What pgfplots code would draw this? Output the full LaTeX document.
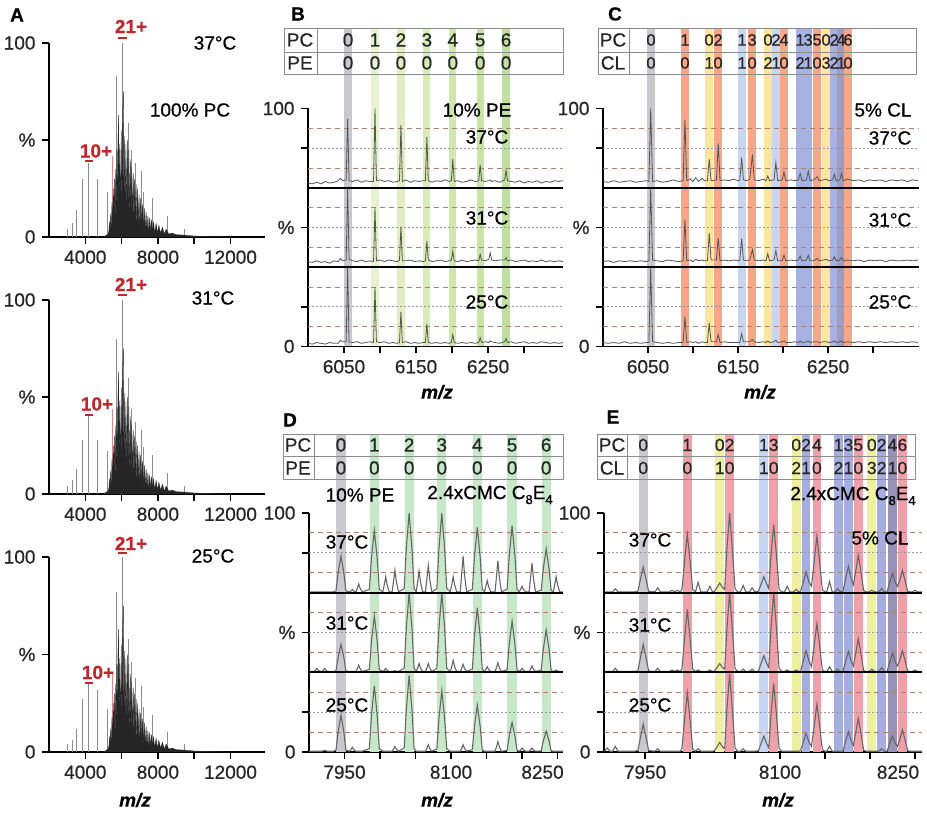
\documentclass[border=0pt]{standalone}
\usepackage{fontspec}
\setmainfont{Liberation Sans}[FakeBold=0.6]
\usepackage{pgfplots}
\usepackage{pgfplotstable}
\pgfplotsset{compat=1.18}

\definecolor{bgray}{RGB}{200,200,206}
\definecolor{gA}{RGB}{232,242,208}
\definecolor{gB}{RGB}{224,238,194}
\definecolor{gC}{RGB}{216,235,184}
\definecolor{gD}{RGB}{208,231,174}
\definecolor{gE}{RGB}{200,227,166}
\definecolor{gF}{RGB}{192,222,160}
\definecolor{dgreen}{RGB}{198,232,200}
\definecolor{cred}{RGB}{246,166,138}
\definecolor{cyel}{RGB}{251,230,160}
\definecolor{clb}{RGB}{200,214,240}
\definecolor{cblue}{RGB}{168,178,226}
\definecolor{cdark}{RGB}{156,156,196}
\definecolor{ered}{RGB}{240,160,168}
\definecolor{eyel}{RGB}{238,240,160}
\definecolor{elb}{RGB}{198,214,242}
\definecolor{eblue}{RGB}{166,174,224}
\definecolor{edark}{RGB}{152,146,184}
\definecolor{dashbrown}{RGB}{170,130,115}
\definecolor{dotgray}{RGB}{150,150,165}
\definecolor{labred}{RGB}{190,40,45}
\definecolor{trace}{RGB}{85,85,85}
\definecolor{stick}{RGB}{140,140,140}
\definecolor{tabgray}{RGB}{140,140,140}

\pgfplotsset{
  spec/.style={
    scale only axis, anchor=south west,
    axis lines=left, axis line style={-, line width=1.8pt},
    every outer x axis line/.append style={-},
    every outer y axis line/.append style={-},
    clip=false, enlargelimits=false,
    scaled x ticks=false, scaled y ticks=false,
    tick style={line width=1.5pt, black},
    major tick length=7pt, tick align=outside,
    /pgf/number format/assume math mode=true,
    /pgf/number format/1000 sep={},
    xticklabel style={text=black!85},
    yticklabel style={text=black!85},
  },
  panelA/.style={xmin=2000, xmax=13900, ymin=0, ymax=100,
    ytick={0,50,100}, yticklabels={0,\%,100},
    xtick={4000,6000,8000,10000,12000}, xticklabels={4000,{},8000,{},12000}},
  stack/.style={ymin=0, ymax=300, ytick={0,50,150,250,300}, yticklabels={0,{},\%,{},100}},
  guideB/.style={dashbrown, line width=0.9pt, dash pattern=on 5pt off 4pt},
  guideD/.style={dotgray, line width=0.9pt, dash pattern=on 1.5pt off 2.5pt},
  sep/.style={black, line width=1.8pt},
  tr/.style={trace, line width=0.8pt},
  trD/.style={black!60, line width=1.1pt},
}

\newcommand{\band}[4]{\addplot[draw=none, fill=#4] coordinates {(#1,#3) (#2,#3)} \closedcycle;}
\newcommand{\guides}[2]{%
 \addplot[guideB] coordinates {(#1,25) (#2,25)};
 \addplot[guideD] coordinates {(#1,50) (#2,50)};
 \addplot[guideB] coordinates {(#1,75) (#2,75)};
 \addplot[guideB] coordinates {(#1,125) (#2,125)};
 \addplot[guideD] coordinates {(#1,150) (#2,150)};
 \addplot[guideB] coordinates {(#1,175) (#2,175)};
 \addplot[guideB] coordinates {(#1,225) (#2,225)};
 \addplot[guideD] coordinates {(#1,250) (#2,250)};
 \addplot[guideB] coordinates {(#1,275) (#2,275)};}
\newcommand{\seps}[2]{%
 \addplot[sep] coordinates {(#1,100) (#2,100)};
 \addplot[sep] coordinates {(#1,200) (#2,200)};}
\newcommand{\tablebox}[6]{%
 \draw[tabgray, line width=0.9pt] (axis cs:#1,#4) rectangle (axis cs:#2,#6);
 \draw[tabgray, line width=0.9pt] (axis cs:#1,#5) -- (axis cs:#2,#5);
 \draw[tabgray, line width=0.9pt] (axis cs:#3,#4) -- (axis cs:#3,#6);}
\newcommand{\tn}[3]{\node[inner sep=0pt, text=black!85] at (axis cs:#1,#2) {#3};}
\newcommand{\tns}[3]{\node[inner sep=0pt, text=black!85, font=\fontsize{16.5}{18}\selectfont] at (axis cs:#1,#2) {#3};}
\newcommand{\tne}[3]{\node[inner sep=0pt, text=black!85, font=\fontsize{17.5}{19}\selectfont] at (axis cs:#1,#2) {#3};}
\newcommand{\sub}[1]{\raisebox{-5pt}{\fontsize{13}{13}\selectfont #1}}

% ---------- Panel A data ----------
\pgfplotstableread{
x a37 a31 a25
3007 4 4 4
3283 7 7 6
3503 14 13 12
3834 30 28 27
4183 38 40 35
4662 30 28 32
5232 23 22 22
5729 83 80 82
6059 100 100 100
6372 59 60 58
6521 45 44 46
6758 38 37 38
7073 34 33 34
7200 23 24 23
7713 20 20 19
8507 11 11 10
9462 4 4 4
}\tabAs

\pgfplotstableread{
x m
5000 0
5250 1.5
5300 3
5330 8
5360 1.5
5400 12
5430 2
5470 18
5500 3
5540 25
5570 4
5600 30
5640 5
5680 35
5700 6
5740 45
5770 7
5800 50
5838 63
5870 8
5900 48
5940 8
5980 55
6010 9
6050 60
6096 75
6130 9
6170 52
6200 9
6240 48
6280 9
6320 50
6350 8
6400 45
6440 8
6480 40
6520 7
6560 36
6600 7
6640 33
6680 6
6720 30
6760 6
6800 27
6840 5
6880 25
6920 5
6960 22
7000 4
7050 20
7100 4
7150 17
7200 3
7250 15
7300 3
7350 13
7400 3
7450 11
7500 2.5
7550 10
7600 2.5
7650 9
7700 2.5
7760 8
7820 2
7900 7
7980 2
8050 6
8150 2
8250 5
8350 1.5
8450 4
8600 1.5
8800 2
9000 1.2
9400 1
10000 0.5
11000 0.2
12000 0
}\tabAm

% ---------- Panel B data ----------
\pgfplotstableread{
x t37 t31 t25
6000 6 7 4
6006 5 6 3
6012 7 8 5
6018 5 6 4
6024 8 7 3
6030 6 5 5
6036 7 8 4
6042 9 7 4
6045 12 11 8
6048 9 8 6
6053 10 9 6
6055 87 100 100
6057 9 10 6
6062 8 8 5
6068 10 7 6
6074 7 9 4
6080 9 7 5
6086 8 8 6
6091 8 7 5
6093 100 75 75
6095 9 8 6
6100 10 9 5
6106 8 7 6
6112 9 9 4
6118 7 8 5
6124 8 7 4
6127 9 9 5
6129 79 51 44
6131 8 8 5
6136 10 8 6
6142 7 9 4
6148 9 7 5
6154 8 8 4
6160 9 7 5
6163 9 8 5
6165 64 33 28
6167 9 9 5
6172 7 7 4
6178 9 8 5
6184 8 9 4
6190 10 7 5
6196 8 8 4
6199 9 9 5
6201 36 20 15
6203 8 8 5
6208 9 7 4
6214 7 9 5
6220 8 7 4
6226 10 8 5
6232 8 9 4
6237 9 8 5
6239 29 16 11
6241 9 9 5
6246 8 8 6
6251 9 10 5
6253 10 18 7
6255 8 9 6
6260 9 8 5
6266 7 9 4
6273 10 9 6
6275 22 12 10
6277 9 8 5
6282 8 9 6
6288 7 7 4
6294 9 8 5
6300 6 9 6
6306 8 7 4
6312 7 8 5
6318 9 7 4
6324 6 9 6
6330 8 7 5
6336 7 8 4
6342 9 7 5
6348 8 8 4
6354 9 7 5
}\tabB

% ---------- Panel C data ----------
\pgfplotstableread{
x t37 t31 t25
6000 8 7 5
6006 7 8 4
6012 9 6 5
6018 7 8 4
6024 8 7 6
6030 9 8 4
6036 7 7 5
6042 8 8 4
6048 9 7 5
6051 8 8 5
6053 100 100 100
6055 8 9 6
6060 9 8 5
6066 7 7 4
6072 8 9 5
6078 10 8 4
6084 8 7 5
6089 9 8 5
6091 86 60 38
6093 9 8 5
6097 11 9 6
6100 8 7 5
6103 13 10 6
6106 8 8 4
6110 12 9 6
6113 9 8 5
6116 9 8 5
6118 36 43 30
6120 9 9 6
6126 10 9 6
6128 56 37 15
6130 9 8 5
6135 10 9 6
6140 9 8 5
6145 11 9 5
6150 9 8 5
6152 10 9 5
6154 38 36 16
6156 10 9 6
6160 9 8 6
6163 11 9 6
6166 42 22 9
6168 10 9 6
6173 9 8 5
6178 11 9 6
6181 9 8 5
6183 15 17 7
6185 9 8 5
6190 10 9 6
6192 32 21 8
6194 9 8 5
6199 10 8 6
6201 20 15 7
6203 9 8 5
6208 10 9 5
6213 9 8 6
6217 10 9 5
6219 18 14 7
6221 9 8 5
6226 10 9 6
6228 21 15 7
6230 9 8 5
6234 10 8 6
6238 14 11 6
6240 9 8 5
6245 10 9 6
6248 11 10 6
6251 9 8 5
6255 10 9 6
6257 17 13 7
6259 9 8 5
6263 10 9 6
6265 18 12 7
6267 9 8 5
6272 11 9 6
6278 9 8 5
6284 10 9 6
6290 8 7 5
6296 10 9 6
6302 9 8 5
6308 10 9 6
6314 8 7 5
6320 10 9 6
6326 9 8 5
6332 10 8 6
6338 8 9 5
6344 10 8 6
6350 9 9 5
}\tabC

% ---------- Panel D data ----------
\pgfplotstableread{
x d37 d31 d25
7900 1 1 1
7907 1 1 1
7909 1 2.5 1
7911 1 5 1
7913 1 2.5 1
7916 1 1 1
7918 1 1 1
7920 1 2.5 1.5
7922 1 5 2
7924 1 2.5 1.5
7926 1 1 1
7934 1 1 1
7938 2.3 1.8 2.3
7941 25 19 25
7945 46 35 46
7949 25 19 25
7952 2.3 1.8 2.3
7957 1 1 1
7959 2 1 3
7961 4 1 6
7963 2 1 3
7966 1 1 1
7968 5.5 4.5 1
7970 11 9 1
7972 5.5 4.5 1
7975 1 1 1
7985 3.9 3.6 4.2
7988 43 39 46
7992 78 71 83
7996 43 39 46
7999 3.9 3.6 4.2
8004 1 1 1
8006 10 2.5 1
8008 20 5 1
8010 10 2.5 1
8013 1 1 1
8017 1 1 1
8019 14 1.5 3.5
8021 28 2 7
8023 14 1.5 3.5
8026 1 1 1
8034 5 5 4.8
8037 55 55 53
8041 100 100 96
8045 55 55 53
8048 5 5 4.8
8051 1 1 1
8053 13.5 5.5 1
8055 27 11 1
8057 13.5 5.5 1
8060 1 1 1
8064 1 1 1
8066 17 5.5 4.5
8068 34 11 9
8070 17 5.5 4.5
8073 1 1 1
8080 5 5 3.9
8083 55 55 42
8087 100 100 77
8091 55 55 42
8094 5 5 3.9
8099 1 1 1
8101 10 7.5 1
8103 20 15 1
8105 10 7.5 1
8108 1 1 1
8113 1 1 1
8115 23 5 4.5
8117 46 10 9
8119 23 5 4.5
8122 1 1 1
8130 4.1 4 3
8133 45 45 32
8137 82 81 59
8141 45 45 32
8144 4.1 4 3
8147 1 1 1
8149 7.5 3.5 1
8151 15 7 1
8153 7.5 3.5 1
8156 1 1 1
8162 1 1 1
8164 20 6 6.5
8166 40 12 13
8168 20 6 6.5
8171 1 1 1
8179 4.2 3.2 1.9
8182 46 35 20
8186 84 64 37
8190 46 35 20
8193 4.2 3.2 1.9
8196 1 1 1
8198 4 2.5 2.5
8200 8 5 5
8202 4 2.5 2.5
8205 1 1 1
8210 1 1 1
8212 18.5 4 2.5
8214 37 8 5
8216 18.5 4 2.5
8219 1 1 1
8227 2.8 2.7 1.3
8230 30 29 14
8234 55 53 26
8238 30 29 14
8241 2.8 2.7 1.3
8244 1 1 1
8246 10 1.5 1
8248 20 3 1
8250 10 1.5 1
8253 1 1 1
8257.7 1 1 1
}\tabD

% ---------- Panel E data ----------
\pgfplotstableread{
x e37 e31 e25
7905 1 1 1
7908 1 1 5
7911 1 1 1
7914 1 1 1
7917 5 5 7
7920 1 1 1
7938 1 1 1
7942 1.6 1.8 1.8
7945 17.6 19 19
7948 32 35 35
7951 17.6 19 19
7954 1.6 1.8 1.8
7961 1 1 1
7964 6 5 4
7967 1 1 1
7977 1 1 1
7980 3 3 1
7983 1 1 1
7986 3 3 1
7989 1 1 1
7991 3.7 4 3.7
7994 40 43 41
7997 73 79 74
8000 40 43 41
8003 3.7 4 3.7
8006 1 1 1
8009 13 3 4
8012 1 1 1
8019 1 1 1
8022 8 3 1
8025 1 1 1
8027 1.6 1.6 1.6
8030 6.6 6 6.6
8033 12 11 12
8036 6.6 6 6.6
8038.5 4 4 4
8041 55 55 54
8044 100 100 98
8047 55 55 54
8050 5 5 4.9
8053 1 1 1
8056 1 1 1
8059 9 4 4
8062 1 1 1
8066 1 1 1
8069 6 4 1
8072 1 1 1
8076 1.5 1.5 1.5
8079 11 11.5 11
8082 20 21 20
8085 11 11.5 11
8087.5 5 6 5
8090 47 55 47
8093 85 100 86
8096 47 55 47
8099 4.3 5 4.3
8102 1 1 1
8105 1 1 1
8108 8 3 1
8111 1 1 1
8115 1 1 1
8118 4 3 1
8121 1 1 1
8123 2 2 2
8126 14 15 13
8129 26 27 23
8132 14 15 13
8135 8 7 7
8138 39 34 33
8141 71 61 60
8144 39 34 33
8147 3.6 3 3
8150 1 1 1
8152 1 1 1
8155 14 7 7
8158 1 1 1
8161 1 1 1
8164 5 4 1
8167 1 1 1
8170 1.7 1.3 1.3
8173 18 14 14
8176 33 26 25
8179 18 14 14
8181.5 10 8 8
8184 26 23 23
8187 47 42 42
8190 26 23 23
8193 2.4 2.1 2.1
8196 1 1 1
8199 1 1 1
8202 3 4 1
8205 1 1 1
8210 1 1 1
8213 5 6 4
8216 1 1 1
8219 1.2 1.2 1
8222 13 13 11
8225 24 24 20
8228 13 13 11
8230.5 8 8 7
8233 15 15 15
8236 28 27 28
8239 15 15 15
8242 1.4 1.3 1.4
8245 1 1 1
8247 1 1 1
8250 3 3 1
8253 1 1 1
8257.8 1 1 1
}\tabE

\begin{document}
\fontsize{19}{22}\selectfont
\begin{tikzpicture}
\path[use as bounding box, fill=white] (0pt,0pt) rectangle (927pt,814pt);

% ================= Panel A =================
\begin{axis}[spec, panelA, at={(49pt,577pt)}, width=216pt, height=194pt]
\addplot[ycomb, stick, line width=1pt] table[x=x,y=a37]{\tabAs};
\addplot[ycomb, labred!55, line width=1pt] coordinates {(5472,42)};
\addplot[fill=black!85, draw=black!85, line width=0.3pt] table[x=x,y=m]{\tabAm} \closedcycle;
\end{axis}
\begin{axis}[spec, panelA, at={(49pt,320pt)}, width=216pt, height=194pt]
\addplot[ycomb, stick, line width=1pt] table[x=x,y=a31]{\tabAs};
\addplot[ycomb, labred!55, line width=1pt] coordinates {(5472,44)};
\addplot[fill=black!85, draw=black!85, line width=0.3pt] table[x=x,y=m]{\tabAm} \closedcycle;
\end{axis}
\begin{axis}[spec, panelA, at={(49pt,62pt)}, width=216pt, height=195pt]
\addplot[ycomb, stick, line width=1pt] table[x=x,y=a25]{\tabAs};
\addplot[ycomb, labred!55, line width=1pt] coordinates {(5472,41)};
\addplot[fill=black!85, draw=black!85, line width=0.3pt] table[x=x,y=m]{\tabAm} \closedcycle;
\end{axis}

% ================= Panel B =================
\begin{axis}[spec, stack, at={(308pt,467.5pt)}, width=255pt, height=238pt,
  xmin=6000, xmax=6354, xtick={6050,6100,...,6300}, xticklabels={6050,{},6150,{},6250,{}}]
\band{6050.6}{6060.6}{401.5}{bgray}
\band{6088}{6098}{401.5}{gA}
\band{6124}{6134}{401.5}{gB}
\band{6160}{6170}{401.5}{gC}
\band{6196}{6206}{401.5}{gD}
\band{6234}{6244}{401.5}{gE}
\band{6270}{6280}{401.5}{gF}
\guides{6000}{6354}
\addplot[tr] table[x=x, y expr=\thisrow{t37}+200]{\tabB};
\addplot[tr] table[x=x, y expr=\thisrow{t31}+100]{\tabB};
\addplot[tr] table[x=x, y=t25]{\tabB};
\seps{6000}{6354}
\tablebox{5966.7}{6354}{6012.5}{342.9}{371.2}{401.5}
\tn{5988.9}{386.4}{PC}\tn{5988.9}{357.4}{PE}
\tn{6055.6}{386.4}{0}\tn{6093}{386.4}{1}\tn{6129}{386.4}{2}\tn{6165}{386.4}{3}\tn{6201}{386.4}{4}\tn{6239}{386.4}{5}\tn{6275}{386.4}{6}
\tn{6055.6}{357.4}{0}\tn{6093}{357.4}{0}\tn{6129}{357.4}{0}\tn{6165}{357.4}{0}\tn{6201}{357.4}{0}\tn{6239}{357.4}{0}\tn{6275}{357.4}{0}
\end{axis}

% ================= Panel C =================
\begin{axis}[spec, stack, at={(603pt,467.5pt)}, width=316pt, height=238pt,
  xmin=6000, xmax=6351, xtick={6050,6100,...,6300}, xticklabels={6050,{},6150,{},6250,{}}]
\band{6049}{6057.6}{401.5}{bgray}
\band{6086.7}{6095.3}{401.5}{cred}
\band{6113.5}{6122.1}{401.5}{cyel}
\band{6123.5}{6132.1}{401.5}{cred}
\band{6150.1}{6158.7}{401.5}{clb}
\band{6161.3}{6169.9}{401.5}{cred}
\band{6179}{6187.6}{401.5}{cyel}
\band{6187.9}{6196.5}{401.5}{clb}
\band{6196.8}{6205.4}{401.5}{cred}
\band{6214.6}{6223.2}{401.5}{cblue}
\band{6223.5}{6232.1}{401.5}{cblue}
\band{6233.5}{6242.1}{401.5}{cred}
\band{6243.5}{6252.1}{401.5}{cyel}
\band{6252.4}{6261}{401.5}{cblue}
\band{6260.4}{6268.4}{401.5}{cdark}
\band{6268.2}{6276.8}{401.5}{cred}
\guides{6000}{6351}
\addplot[tr] table[x=x, y expr=\thisrow{t37}+200]{\tabC};
\addplot[tr] table[x=x, y expr=\thisrow{t31}+100]{\tabC};
\addplot[tr] table[x=x, y=t25]{\tabC};
\seps{6000}{6351}
\tablebox{5994.4}{6347.8}{6028.9}{342.9}{371.2}{401.5}
\tn{6011.1}{386.4}{PC}\tn{6011.1}{357.4}{CL}
\tns{6053.3}{386.4}{0}\tns{6091}{386.4}{1}\tns{6117.8}{386.4}{0}\tns{6127.8}{386.4}{2}\tns{6154.4}{386.4}{1}\tns{6165.6}{386.4}{3}\tns{6183.3}{386.4}{0}\tns{6192.2}{386.4}{2}\tns{6201.1}{386.4}{4}\tns{6218.9}{386.4}{1}\tns{6227.8}{386.4}{3}\tns{6237.8}{386.4}{5}\tns{6247.8}{386.4}{0}\tns{6256.7}{386.4}{2}\tns{6264.4}{386.4}{4}\tns{6272.2}{386.4}{6}
\tns{6053.3}{357.4}{0}\tns{6091}{357.4}{0}\tns{6117.8}{357.4}{1}\tns{6127.8}{357.4}{0}\tns{6154.4}{357.4}{1}\tns{6165.6}{357.4}{0}\tns{6183.3}{357.4}{2}\tns{6192.2}{357.4}{1}\tns{6201.1}{357.4}{0}\tns{6218.9}{357.4}{2}\tns{6227.8}{357.4}{1}\tns{6237.8}{357.4}{0}\tns{6247.8}{357.4}{3}\tns{6256.7}{357.4}{2}\tns{6264.4}{357.4}{1}\tns{6272.2}{357.4}{0}
\end{axis}

% ================= Panel D =================
\begin{axis}[spec, stack, at={(309pt,62pt)}, width=254pt, height=239pt,
  xmin=7900, xmax=8257.7, xtick={7950,8000,...,8250}, xticklabels={7950,{},{},8100,{},{},{8250\hspace*{30pt}}}]
\band{7938.5}{7951.5}{399.2}{bgray}
\band{7985.5}{7998.5}{399.2}{dgreen}
\band{8034.5}{8047.5}{399.2}{dgreen}
\band{8080.5}{8093.5}{399.2}{dgreen}
\band{8130.5}{8143.5}{399.2}{dgreen}
\band{8179.5}{8192.5}{399.2}{dgreen}
\band{8227.5}{8240.5}{399.2}{dgreen}
\guides{7900}{8257.7}
\addplot[trD] table[x=x, y expr=\thisrow{d37}+200]{\tabD};
\addplot[trD] table[x=x, y expr=\thisrow{d31}+100]{\tabD};
\addplot[trD] table[x=x, y=d25]{\tabD};
\seps{7900}{8257.7}
\tablebox{7863.4}{8257.7}{7907}{342.7}{371.5}{399.2}
\tn{7884.5}{385.4}{PC}\tn{7884.5}{356.5}{PE}
\tn{7945}{385.4}{0}\tn{7992}{385.4}{1}\tn{8041}{385.4}{2}\tn{8087}{385.4}{3}\tn{8137}{385.4}{4}\tn{8186}{385.4}{5}\tn{8234}{385.4}{6}
\tn{7945}{356.5}{0}\tn{7992}{356.5}{0}\tn{8041}{356.5}{0}\tn{8087}{356.5}{0}\tn{8137}{356.5}{0}\tn{8186}{356.5}{0}\tn{8234}{356.5}{0}
\end{axis}

% ================= Panel E =================
\begin{axis}[spec, stack, at={(604pt,62pt)}, width=318pt, height=239pt,
  xmin=7904.4, xmax=8257.8, xtick={7950,8000,...,8250}, xticklabels={7950,{},{},8100,{},{},{8250\hspace*{34pt}}}]
\band{7943.2}{7952.8}{399.2}{bgray}
\band{7992.2}{8001.8}{399.2}{ered}
\band{8028.2}{8037.8}{399.2}{eyel}
\band{8039.2}{8048.8}{399.2}{ered}
\band{8077.2}{8086.8}{399.2}{elb}
\band{8088.2}{8097.8}{399.2}{ered}
\band{8113.2}{8122.8}{399.2}{eyel}
\band{8124.2}{8133.8}{399.2}{eblue}
\band{8136.2}{8145.8}{399.2}{ered}
\band{8160.2}{8169.8}{399.2}{eblue}
\band{8171.2}{8180.8}{399.2}{eblue}
\band{8182.2}{8191.8}{399.2}{ered}
\band{8197.2}{8206.8}{399.2}{eyel}
\band{8208.2}{8217.8}{399.2}{eblue}
\band{8220.2}{8229.8}{399.2}{edark}
\band{8231.2}{8240.8}{399.2}{ered}
\guides{7904.4}{8257.8}
\addplot[trD] table[x=x, y expr=\thisrow{e37}+200]{\tabE};
\addplot[trD] table[x=x, y expr=\thisrow{e31}+100]{\tabE};
\addplot[trD] table[x=x, y=e25]{\tabE};
\seps{7904.4}{8257.8}
\tablebox{7896.6}{8250}{7930}{342.7}{371.5}{399.2}
\tn{7913.3}{385.4}{PC}\tn{7913.3}{356.5}{CL}
\tne{7948}{385.4}{0}\tne{7997}{385.4}{1}\tne{8033}{385.4}{0}\tne{8044}{385.4}{2}\tne{8082}{385.4}{1}\tne{8093}{385.4}{3}\tne{8118}{385.4}{0}\tne{8129}{385.4}{2}\tne{8141}{385.4}{4}\tne{8165}{385.4}{1}\tne{8176}{385.4}{3}\tne{8187}{385.4}{5}\tne{8202}{385.4}{0}\tne{8213}{385.4}{2}\tne{8225}{385.4}{4}\tne{8236}{385.4}{6}
\tne{7948}{356.5}{0}\tne{7997}{356.5}{0}\tne{8033}{356.5}{1}\tne{8044}{356.5}{0}\tne{8082}{356.5}{1}\tne{8093}{356.5}{0}\tne{8118}{356.5}{2}\tne{8129}{356.5}{1}\tne{8141}{356.5}{0}\tne{8165}{356.5}{2}\tne{8176}{356.5}{1}\tne{8187}{356.5}{0}\tne{8202}{356.5}{3}\tne{8213}{356.5}{2}\tne{8225}{356.5}{1}\tne{8236}{356.5}{0}
\end{axis}

% ================= Annotations =================
% A
\node[font=\bfseries] at (17pt,799pt) {A};
\node[text=labred, font=\bfseries] at (131pt,787.5pt) {21+};
\draw[labred, line width=2pt] (118pt,776pt) -- (127pt,776pt);
\node[text=labred, font=\bfseries] at (96pt,663pt) {10+};
\draw[labred, line width=2pt] (85pt,653pt) -- (93pt,653pt);
\node at (215pt,771pt) {37°C};
\node at (190pt,704pt) {100\% PC};
\node[text=labred, font=\bfseries] at (131pt,529.5pt) {21+};
\draw[labred, line width=2pt] (118pt,519pt) -- (127pt,519pt);
\node[text=labred, font=\bfseries] at (97pt,410pt) {10+};
\draw[labred, line width=2pt] (85pt,399pt) -- (93pt,399pt);
\node at (213pt,516pt) {31°C};
\node[text=labred, font=\bfseries] at (131pt,270.5pt) {21+};
\draw[labred, line width=2pt] (118pt,261pt) -- (127pt,261pt);
\node[text=labred, font=\bfseries] at (98pt,141.5pt) {10+};
\draw[labred, line width=2pt] (85pt,131pt) -- (93pt,131pt);
\node at (213pt,258pt) {25°C};
\node[font=\bfseries\itshape] at (135pt,14pt) {m/z};
% B
\node[font=\bfseries] at (298pt,800pt) {B};
\node at (477pt,704pt) {10\% PE};
\node at (487pt,677pt) {37°C};
\node at (487pt,596pt) {31°C};
\node at (487pt,512pt) {25°C};
\node[font=\bfseries\itshape] at (437pt,422pt) {m/z};
% C
\node[font=\bfseries] at (615pt,800pt) {C};
\node at (883pt,704pt) {5\% CL};
\node at (890pt,676pt) {37°C};
\node at (890pt,594pt) {31°C};
\node at (890pt,512pt) {25°C};
\node[font=\bfseries\itshape] at (760pt,422pt) {m/z};
% D
\node[font=\bfseries] at (290pt,394pt) {D};
\node at (360pt,319pt) {10\% PE};
\node at (490pt,319pt) {2.4xCMC C\sub{8}E\sub{4}};
\node at (347pt,272pt) {37°C};
\node at (347pt,191pt) {31°C};
\node at (347pt,109pt) {25°C};
\node[font=\bfseries\itshape] at (437pt,14pt) {m/z};
% E
\node[font=\bfseries] at (613pt,397pt) {E};
\node at (853pt,318pt) {2.4xCMC C\sub{8}E\sub{4}};
\node at (880pt,276pt) {5\% CL};
\node at (650pt,274pt) {37°C};
\node at (650pt,189pt) {31°C};
\node at (650pt,109pt) {25°C};
\node[font=\bfseries\itshape] at (778pt,14pt) {m/z};
\end{tikzpicture}
\end{document}
